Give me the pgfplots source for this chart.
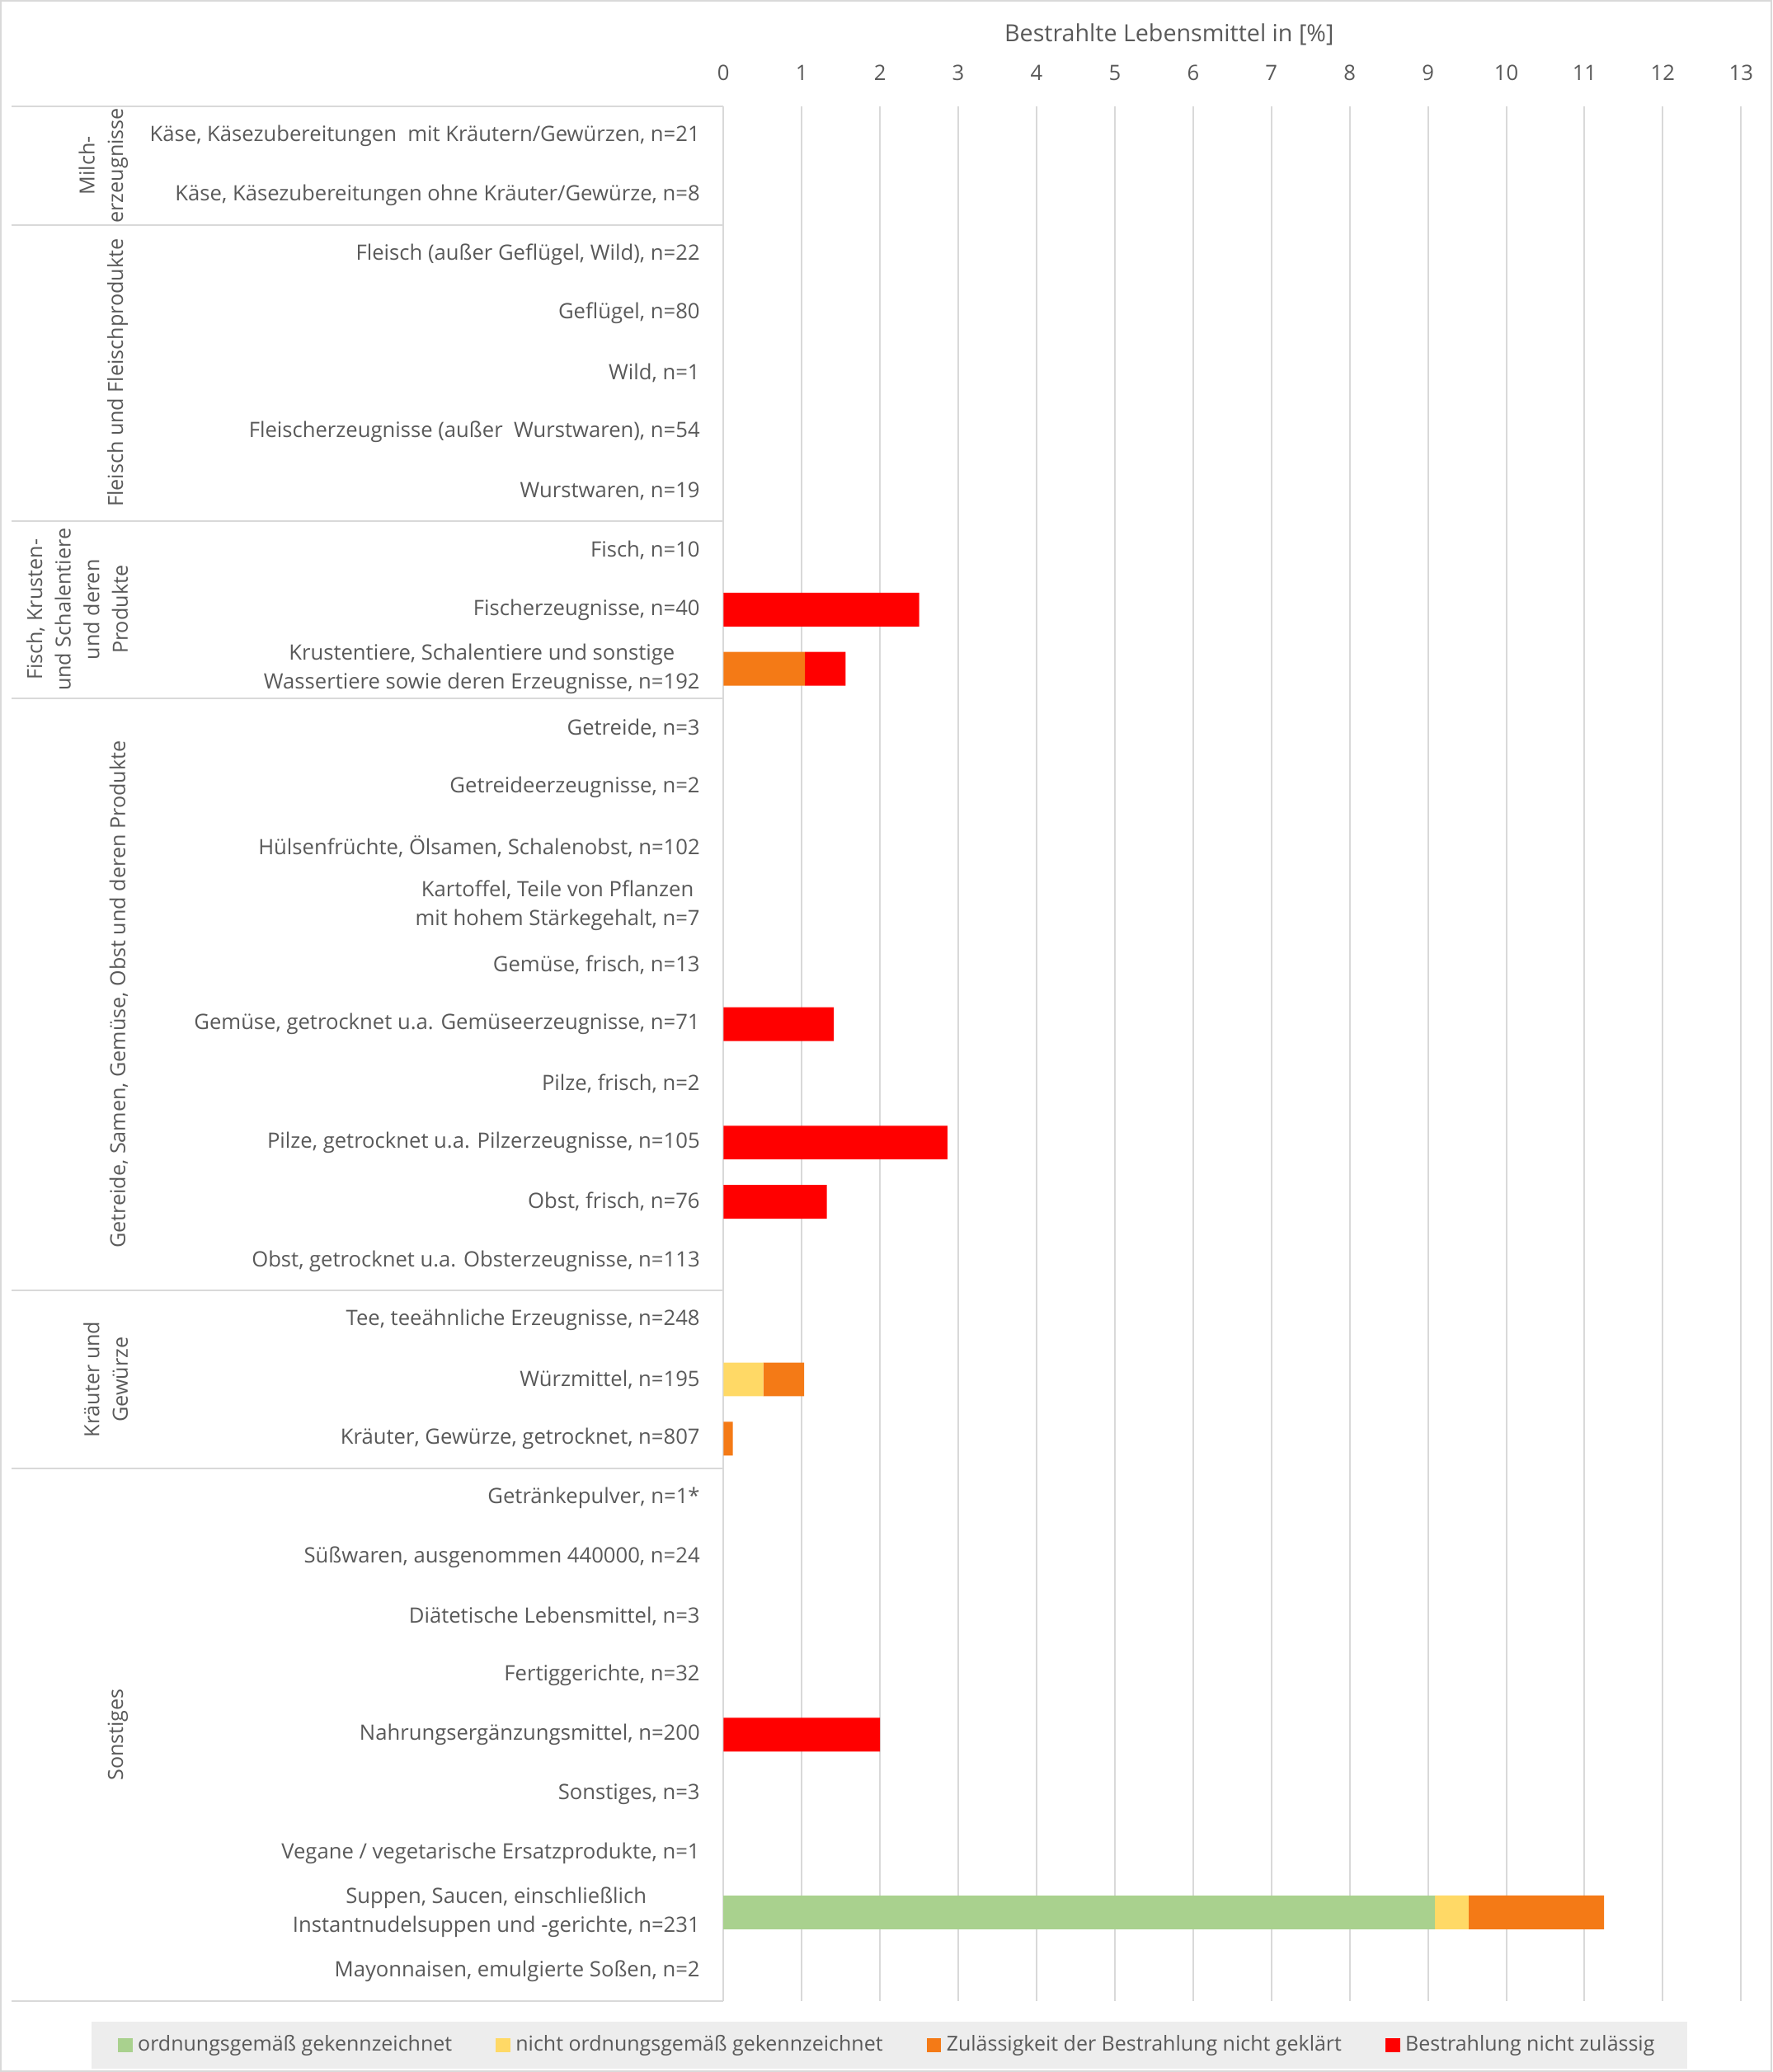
\documentclass[border=0pt]{standalone}
\usepackage{pgfplots}
\pgfplotsset{compat=1.18}
\usepackage{pgfplotstable}
\usepackage{fontspec}
\setmainfont{Open Sans}
\definecolor{cgreen}{HTML}{A9D18E}
\definecolor{cyellow}{HTML}{FFD966}
\definecolor{corange}{HTML}{F47A16}
\definecolor{cred}{HTML}{FF0000}
\definecolor{txtgray}{HTML}{595959}
\definecolor{gridgray}{HTML}{D9D9D9}
\definecolor{leggray}{HTML}{EDEDED}
\pgfplotstableread{
y  g     ye    o     r
0  0     0     0     0
1  0     0     0     0
2  0     0     0     0
3  0     0     0     0
4  0     0     0     0
5  0     0     0     0
6  0     0     0     0
7  0     0     0     0
8  0     0     0     2.50
9  0     0     1.04  0.52
10 0     0     0     0
11 0     0     0     0
12 0     0     0     0
13 0     0     0     0
14 0     0     0     0
15 0     0     0     1.41
16 0     0     0     0
17 0     0     0     2.86
18 0     0     0     1.32
19 0     0     0     0
20 0     0     0     0
21 0     0.51  0.52  0
22 0     0     0.12  0
23 0     0     0     0
24 0     0     0     0
25 0     0     0     0
26 0     0     0     0
27 0     0     0     2.00
28 0     0     0     0
29 0     0     0     0
30 9.09  0.43  1.73  0
31 0     0     0     0
}\datatable
\newcommand{\lf}{\fontsize{7.7}{10.5}\selectfont}
\newcommand{\gf}{\fontsize{7.55}{10.4}\selectfont}
\newcommand{\legf}{\fontsize{7.5}{10.5}\selectfont}
\begin{document}
\begin{tikzpicture}
\begin{axis}[
  scale only axis, width=370.5pt, height=690pt,
  xbar stacked, bar width=0.57,
  xmin=0, xmax=13, ymin=-0.5, ymax=31.5, y dir=reverse,
  xtick={0,1,...,13}, xticklabel pos=upper,
  ytick={0,1,...,31},
  yticklabels={
    {Käse, Käsezubereitungen~ mit Kräutern/Gewürzen, n=21},
    {Käse, Käsezubereitungen ohne Kräuter/Gewürze, n=8},
    {Fleisch (außer Geflügel, Wild), n=22},
    {Geflügel, n=80},
    {Wild, n=1},
    {Fleischerzeugnisse (außer~ Wurstwaren), n=54},
    {Wurstwaren, n=19},
    {Fisch, n=10},
    {Fischerzeugnisse, n=40},
    {Krustentiere, Schalentiere und sonstige\\Wassertiere sowie deren Erzeugnisse, n=192},
    {Getreide, n=3},
    {Getreideerzeugnisse, n=2},
    {Hülsenfrüchte, Ölsamen, Schalenobst, n=102},
    {Kartoffel, Teile von Pflanzen\\mit hohem Stärkegehalt, n=7},
    {Gemüse, frisch, n=13},
    {Gemüse, getrocknet u.a. Gemüseerzeugnisse, n=71},
    {Pilze, frisch, n=2},
    {Pilze, getrocknet u.a. Pilzerzeugnisse, n=105},
    {Obst, frisch, n=76},
    {Obst, getrocknet u.a. Obsterzeugnisse, n=113},
    {Tee, teeähnliche Erzeugnisse, n=248},
    {Würzmittel, n=195},
    {Kräuter, Gewürze, getrocknet, n=807},
    {Getränkepulver, n=1*},
    {Süßwaren, ausgenommen 440000, n=24},
    {Diätetische Lebensmittel, n=3},
    {Fertiggerichte, n=32},
    {Nahrungsergänzungsmittel, n=200},
    {Sonstiges, n=3},
    {Vegane / vegetarische Ersatzprodukte, n=1},
    {Suppen, Saucen, einschließlich\\Instantnudelsuppen und -gerichte, n=231},
    {Mayonnaisen, emulgierte Soßen, n=2}},
  major tick length=0pt,
  axis line style={draw=none},
  xmajorgrids, major grid style={draw=gridgray, line width=0.6pt},
  /pgf/number format/assume math mode=true,
  tick label style={font=\lf, text=txtgray},
  yticklabel style={align=center, anchor=east, inner sep=0pt, xshift=-8.4pt},
  xticklabel style={anchor=center, inner sep=0pt, yshift=12.1pt},
  title={Bestrahlte Lebensmittel in [\%]},
  title style={at={(axis description cs:0.438,1)}, anchor=center, yshift=20.2pt, font=\fontsize{8.6}{10}\selectfont, text=txtgray},
  clip=false,
  legend columns=4,
  legend style={at={(axis description cs:0,0)}, anchor=north west, xshift=-230.4pt, yshift=-7.2pt,
    fill=leggray, draw=none, font=\legf, text=txtgray, inner xsep=9.8pt, inner ysep=3pt,
    /tikz/every even column/.append style={column sep=14pt}},
  legend image code/.code={\fill[#1] (0pt,-2.6pt) rectangle (5.2pt,2.6pt);},
]
\addplot[fill=cgreen, draw=none] table[x=g, y=y] {\datatable};
\addplot[fill=cyellow, draw=none] table[x=ye, y=y] {\datatable};
\addplot[fill=corange, draw=none] table[x=o, y=y] {\datatable};
\addplot[fill=cred, draw=none] table[x=r, y=y] {\datatable};
\legend{ordnungsgemäß gekennzeichnet, nicht ordnungsgemäß gekennzeichnet, Zulässigkeit der Bestrahlung nicht geklärt, Bestrahlung nicht zulässig}
\pgfplotsinvokeforeach{-0.5,1.5,6.5,9.5,19.5,22.5,31.5}{
  \draw[gridgray, line width=0.6pt] ([xshift=-259.2pt]axis cs:0,#1) -- (axis cs:0,#1);
}
\tikzset{grp/.style={rotate=90, anchor=south, inner sep=0pt, align=center, font=\gf, text=txtgray}}
\node[grp] at ([xshift=-216.6pt]axis cs:0,0.5) {Milch-\\erzeugnisse};
\node[grp] at ([xshift=-216.6pt]axis cs:0,4) {Fleisch und Fleischprodukte};
\node[grp] at ([xshift=-216.6pt]axis cs:0,8) {Fisch, Krusten-\\und Schalentiere\\und deren\\Produkte};
\node[grp] at ([xshift=-216.6pt]axis cs:0,14.5) {Getreide, Samen, Gemüse, Obst und deren Produkte};
\node[grp] at ([xshift=-216.6pt]axis cs:0,21) {Kräuter und\\Gewürze};
\node[grp] at ([xshift=-216.6pt]axis cs:0,27) {Sonstiges};
\draw[gridgray, line width=0.6pt] ([xshift=-263.1pt,yshift=38.4pt]axis description cs:0,1) rectangle ([xshift=11.1pt,yshift=-25.5pt]axis description cs:1,0);
\end{axis}
\end{tikzpicture}
\end{document}
